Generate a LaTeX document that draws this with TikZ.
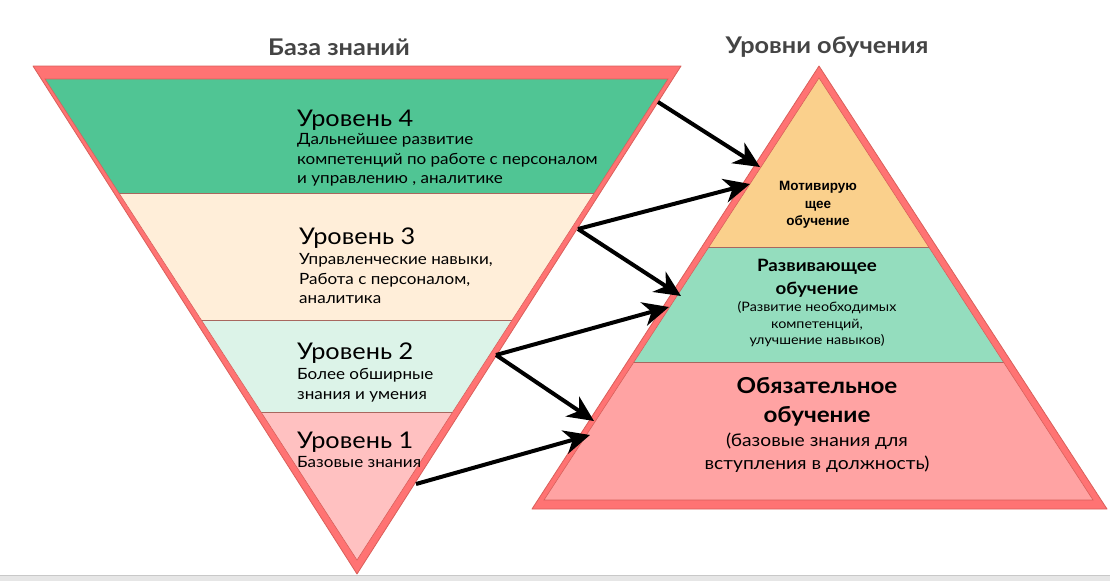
\documentclass[tikz,border=0pt]{standalone}
\usepackage{fontspec}
\setmainfont{Lato}[FakeStretch=1.1]
\newfontfamily\narrowfont{Liberation Sans}
\usetikzlibrary{arrows.meta,positioning}
\definecolor{rim}{HTML}{FF7373}
\definecolor{rimline}{HTML}{D95F5A}
\definecolor{seam}{HTML}{A8675F}
\definecolor{lvlfour}{HTML}{50C594}
\definecolor{lvlthree}{HTML}{FFEED9}
\definecolor{lvltwo}{HTML}{DCF3E8}
\definecolor{lvlone}{HTML}{FFC1C1}
\definecolor{motiv}{HTML}{FAD08C}
\definecolor{devel}{HTML}{94DDBE}
\definecolor{oblig}{HTML}{FFA3A3}
\definecolor{headgray}{HTML}{444444}
\definecolor{barfill}{HTML}{E6E6E6}
\definecolor{barline}{HTML}{C8C8C8}
\tikzset{
    link/.style={-{Stealth[length=26pt, width=24pt, inset=8pt]}, line width=4pt, black},
    rimshape/.style={fill=rim, draw=rimline, line width=0.8pt, line join=round},
    seamline/.style={draw=seam, line width=0.6pt},
    headtext/.style={font=\fontsize{23}{27}\selectfont\bfseries, text=headgray, inner sep=0pt},
    lvlhead/.style={font=\fontsize{23}{27}\selectfont, anchor=west, inner sep=0pt},
    lvltext/.style={font=\fontsize{15.5}{19.5}\selectfont, align=left, inner sep=0pt},
    pyrtext/.style={align=center, inner sep=0pt}
}
\begin{document}
\begin{tikzpicture}[x=1pt, y=-1pt]
        \useasboundingbox (0,0) rectangle (1110,581);
        \fill[barfill] (0,575) rectangle (1110,581);
        \draw[barline] (0,575) -- (1110,575);

        \node[headtext] (base) at (339,47) {База знаний};
        \node[headtext] (levels) at (827,47) {Уровни обучения};

        % knowledge base (inverted triangle)
        \draw[rimshape] (33,66) -- (681,66) -- (357,574) -- cycle;
        \begin{scope}
            \clip (45,79) -- (668,79) -- (357,560) -- cycle;
            \fill[lvlfour] (0,79) rectangle (700,193);
            \fill[lvlthree] (0,193) rectangle (700,320);
            \fill[lvltwo] (0,320) rectangle (700,412);
            \fill[lvlone] (0,412) rectangle (700,560);
            \draw[seamline] (0,193) -- (700,193) (0,320) -- (700,320) (0,412) -- (700,412);
        \end{scope}
        \draw[rimline, line width=0.6pt] (45,79) -- (668,79) -- (357,560) -- cycle;

        % learning levels (pyramid)
        \draw[rimshape] (819,66) -- (1107,509) -- (532,509) -- cycle;
        \begin{scope}
            \clip (819,78) -- (1093,500) -- (544,500) -- cycle;
            \fill[motiv] (500,78) rectangle (1110,247);
            \fill[devel] (500,247) rectangle (1110,362);
            \fill[oblig] (500,362) rectangle (1110,500);
            \draw[seamline] (500,247) -- (1110,247) (500,362) -- (1110,362);
        \end{scope}
        \draw[rimline, line width=0.6pt] (819,78) -- (1093,500) -- (544,500) -- cycle;

        \node[lvlhead] (t4) at (297,120) {Уровень 4};
        \node[lvltext, below right=3pt and 0pt of t4.south west] (d4) {Дальнейшее развитие\\компетенций по работе с персоналом\\и управлению , аналитике};
        \node[lvlhead] (t3) at (299,238) {Уровень 3};
        \node[lvltext, below right=5pt and 0pt of t3.south west] (d3) {Управленческие навыки,\\Работа с персоналом,\\аналитика};
        \node[lvlhead] (t2) at (297,353) {Уровень 2};
        \node[lvltext, below right=5pt and 0pt of t2.south west] (d2) {Более обширные\\знания и умения};
        \node[lvlhead] (t1) at (297,442) {Уровень 1};
        \node[lvltext, below right=4pt and 0pt of t1.south west] (d1) {Базовые знания};

        \node[pyrtext, font=\narrowfont\fontsize{13.5}{17.5}\selectfont\bfseries] (motivtext) at (818,205) {Мотивирую\\щее\\обучение};
        \node[pyrtext, font=\fontsize{17}{23}\selectfont\bfseries] (develhead) at (817,278) {Развивающее\\обучение};
        \node[pyrtext, font=\fontsize{13}{16.5}\selectfont, below=4pt of develhead] (develtext) {(Развитие необходимых\\компетенций,\\улучшение навыков)};
        \node[pyrtext, font=\fontsize{22}{29}\selectfont\bfseries] (oblighead) at (817,402) {Обязательное\\обучение};
        \node[pyrtext, font=\fontsize{17.5}{23}\selectfont, below=6pt of oblighead] (obligtext) {(базовые знания для\\вступления в должность)};

        \coordinate (from4) at (658,102);
        \coordinate (from3) at (578,229);
        \coordinate (from2) at (496,355);
        \coordinate (from1) at (416,484);
        \coordinate (to4) at (760,167);
        \coordinate (to3a) at (750,184);
        \coordinate (to3b) at (681,296);
        \coordinate (to2a) at (669,307);
        \coordinate (to2b) at (594,421);
        \coordinate (to1) at (590,435);

        \draw[link] (from4) -- (to4);
        \draw[link] (from3) -- (to3a);
        \draw[link] (from3) -- (to3b);
        \draw[link] (from2) -- (to2a);
        \draw[link] (from2) -- (to2b);
        \draw[link] (from1) -- (to1);
\end{tikzpicture}
\end{document}
